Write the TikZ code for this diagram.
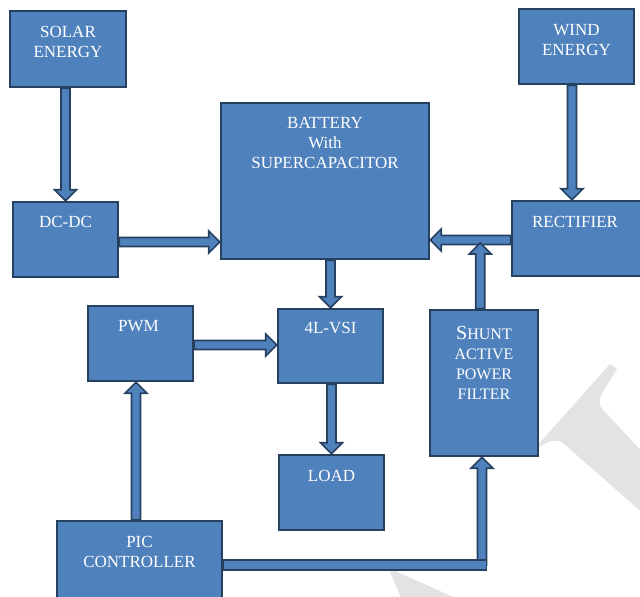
\documentclass[tikz,border=0pt]{standalone}
\usepackage{fontspec}
\setmainfont{Liberation Serif}
\usetikzlibrary{calc}
\definecolor{boxfill}{HTML}{4F81BD}
\definecolor{boxline}{HTML}{26405F}
\definecolor{wmark}{HTML}{E3E3E3}
\newcommand\aSW{4.5bp}
\newcommand\aHW{11bp}
\newcommand\aHL{11bp}
\tikzset{
  blk/.style={draw=boxline, fill=boxfill, line width=2.5bp, rectangle, inner sep=0pt},
  lbl/.style={text=white, align=center, inner sep=0pt, anchor=north, font=\fontsize{17bp}{20bp}\selectfont},
  barrow/.style={draw=boxline, fill=boxfill, line width=1.6bp, line join=miter},
}
\newcommand\arrD[2]{\draw[barrow] let \p1=(#1),\p2=(#2) in (\x2-\aSW,\y1) -- (\x2-\aSW,\y2+\aHL) -- (\x2-\aHW,\y2+\aHL) -- (\x2,\y2) -- (\x2+\aHW,\y2+\aHL) -- (\x2+\aSW,\y2+\aHL) -- (\x2+\aSW,\y1) -- cycle;}
\newcommand\arrU[2]{\draw[barrow] let \p1=(#1),\p2=(#2) in (\x2-\aSW,\y1) -- (\x2-\aSW,\y2-\aHL) -- (\x2-\aHW,\y2-\aHL) -- (\x2,\y2) -- (\x2+\aHW,\y2-\aHL) -- (\x2+\aSW,\y2-\aHL) -- (\x2+\aSW,\y1) -- cycle;}
\newcommand\arrR[2]{\draw[barrow] let \p1=(#1),\p2=(#2) in (\x1,\y2+\aSW) -- (\x2-\aHL,\y2+\aSW) -- (\x2-\aHL,\y2+\aHW) -- (\x2,\y2) -- (\x2-\aHL,\y2-\aHW) -- (\x2-\aHL,\y2-\aSW) -- (\x1,\y2-\aSW) -- cycle;}
\newcommand\arrL[2]{\draw[barrow] let \p1=(#1),\p2=(#2) in (\x1,\y2+\aSW) -- (\x2+\aHL,\y2+\aSW) -- (\x2+\aHL,\y2+\aHW) -- (\x2,\y2) -- (\x2+\aHL,\y2-\aHW) -- (\x2+\aHL,\y2-\aSW) -- (\x1,\y2-\aSW) -- cycle;}
\begin{document}
\begin{tikzpicture}[x=1bp,y=-1bp]
\useasboundingbox (0,0) rectangle (640,597);
% watermark
\fill[wmark] (610,364) -- (617,369) -- (602,393) .. controls (597,403) and (600,408) .. (607,414) -- (646,456) -- (646,516) -- (563,443) .. controls (556,438) and (545,440) .. (527,457) -- cycle;
\fill[wmark] (390,572) -- (395,571) -- (460,600) -- (402,600) -- cycle;
% boxes
\node[blk, minimum width=116bp, minimum height=76bp] (solar) at (68,49) {};
\node[blk, minimum width=115bp, minimum height=75bp] (wind) at (576.5,46.5) {};
\node[blk, minimum width=105bp, minimum height=75bp] (dcdc) at (65.5,239.5) {};
\node[blk, minimum width=208bp, minimum height=156bp] (battery) at (325,181) {};
\node[blk, minimum width=130bp, minimum height=75bp] (rect) at (577,238.5) {};
\node[blk, minimum width=105bp, minimum height=75bp] (pwm) at (140.5,343.5) {};
\node[blk, minimum width=105bp, minimum height=74bp] (vsi) at (330.5,346) {};
\node[blk, minimum width=108bp, minimum height=146bp] (shunt) at (484,383) {};
\node[blk, minimum width=105bp, minimum height=75bp] (load) at (331.5,492.5) {};
\node[blk, minimum width=165bp, minimum height=88bp] (pic) at (139.5,565) {};
% labels
\node[lbl] (solarT) at ($(solar.north)+(0,16)$) {SOLAR\\ENERGY};
\node[lbl] (windT) at ($(wind.north)+(0,16)$) {WIND\\ENERGY};
\node[lbl] (dcdcT) at ($(dcdc.north)+(0,15)$) {DC-DC};
\node[lbl] (batT) at ($(battery.north)+(0,15)$) {BATTERY\\With\\SUPERCAPACITOR};
\node[lbl] (rectT) at ($(rect.north)+(-2,16)$) {RECTIFIER};
\node[lbl] (pwmT) at ($(pwm.north)+(-2,15)$) {PWM};
\node[lbl] (vsiT) at ($(vsi.north)+(0,14)$) {4L-VSI};
\node[lbl] (loadT) at ($(load.north)+(0,16)$) {LOAD};
\node[lbl] (picT) at ($(pic.north)+(0,16)$) {PIC\\CONTROLLER};
\node[lbl, font=\fontsize{16bp}{20bp}\selectfont] (shuntT) at ($(shunt.north)+(0,17)$) {{\fontsize{20bp}{20bp}\selectfont S}HUNT\\ACTIVE\\POWER\\FILTER};
% connectors
\arrD{solar.south}{dcdc.north}
\arrD{wind.south}{$(rect.north)+(-5,0)$}
\arrR{dcdc.east}{$(battery.west |- dcdc.east)+(0,2.5)$}
\arrL{rect.west}{$(battery.east |- rect.west)+(0,1.5)$}
\arrU{shunt.north}{$(battery.east |- rect.west)+(50,4.5)$}
\arrD{battery.south}{vsi.north}
\arrR{pwm.east}{$(vsi.west |- pwm.east)+(0,1.5)$}
\arrD{vsi.south}{load.north}
\arrU{pic.north}{$(pwm.south)+(-4.5,0)$}
\coordinate (bend) at ($(shunt.south |- pic.east)+(-2,0)$);
\arrU{bend}{$(shunt.south)+(-2,0)$}
\draw[barrow] let \p1=(pic.east),\p2=(bend) in (\x1,\y1+5bp) rectangle (\x2+\aSW,\y1-5bp);
\end{tikzpicture}
\end{document}
